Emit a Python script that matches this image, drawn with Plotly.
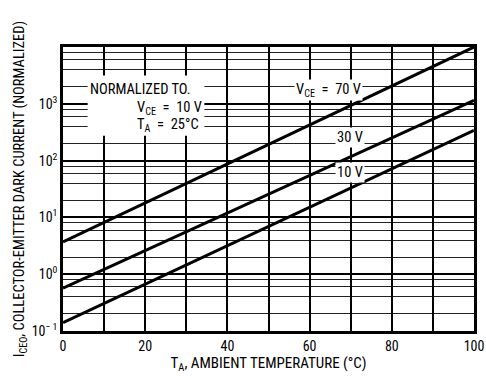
import plotly.graph_objects as go

# ---- data ----
temps = [0, 100]                      # T_A (°C)
i_vce70 = [3.7, 10000]                # normalized I_CEO, VCE = 70 V
i_vce30 = [0.57, 1150]                # VCE = 30 V
i_vce10 = [0.14, 340]                 # VCE = 10 V

x_tick_vals = [0, 10, 20, 30, 40, 50, 60, 70, 80, 90, 100]
x_tick_text = ["0", "", "20", "", "40", "", "60", "", "80", "", "100"]
y_tick_vals = [0.1, 1, 10, 100, 1000, 10000]
y_tick_text = ["10<sup>\u2212 1</sup>", "10<sup>0</sup>", "10<sup>1</sup>",
               "10<sup>2</sup>", "10<sup>3</sup>", ""]
y_minor_mult = [2, 4, 6, 8]
decades = [0.1, 1, 10, 100, 1000]

FONT = "Liberation Sans Narrow, Roboto Condensed, Arial Narrow, Liberation Sans, sans-serif"

fig = go.Figure()
for ys in (i_vce70, i_vce30, i_vce10):
    fig.add_trace(go.Scatter(x=temps, y=ys, mode="lines",
                             line=dict(color="black", width=3),
                             showlegend=False, hoverinfo="skip"))

minor_vals = [d * m for d in decades for m in y_minor_mult]

fig.update_layout(
    width=486, height=376,
    margin=dict(l=63, r=2, t=47, b=45),
    paper_bgcolor="white", plot_bgcolor="white",
    font=dict(family=FONT, size=14, color="black"),
    showlegend=False,
    xaxis=dict(
        range=[0, 100], tickmode="array", tickvals=x_tick_vals, ticktext=x_tick_text,
        showgrid=True, gridcolor="black", gridwidth=1.8, zeroline=False,
        showline=True, mirror=True, linecolor="black", linewidth=2.5,
        ticks="", tickfont=dict(size=14), ticklabeloverflow="allow",
        title=dict(text="T<sub>A</sub>, AMBIENT TEMPERATURE (\u00b0C)",
                   font=dict(size=15), standoff=5),
    ),
    yaxis=dict(
        type="log", range=[-1, 4], tickmode="array", tickvals=y_tick_vals,
        ticktext=y_tick_text,
        showgrid=True, gridcolor="black", gridwidth=1.6, zeroline=False,
        showline=True, mirror=True, linecolor="black", linewidth=2.5,
        ticks="", tickfont=dict(size=14), ticklabeloverflow="allow",
        minor=dict(tickmode="array", tickvals=minor_vals, showgrid=True,
                   gridcolor="#222222", gridwidth=1.1, ticks=""),
        title=dict(text="I<sub>CEO</sub>, COLLECTOR-EMITTER DARK CURRENT (NORMALIZED)",
                   font=dict(size=14.5), standoff=4),
    ),
)

# white box behind the normalization note (shape coords on log axis are data values)
fig.add_shape(type="rect", xref="x", yref="y", x0=6, x1=34.4, y0=275, y1=3160,
              fillcolor="white", line=dict(width=0), layer="between")

fig.add_annotation(x=6.2, y=3.25, xref="x", yref="y", text="NORMALIZED TO.",
                   showarrow=False, xanchor="left", font=dict(size=14.5))
fig.add_annotation(x=17.4, y=2.92, xref="x", yref="y",
                   text="V<sub>CE</sub>  =  10 V", showarrow=False, xanchor="left",
                   font=dict(size=14.5))
fig.add_annotation(x=17.4, y=2.62, xref="x", yref="y",
                   text="T<sub>A</sub>  =  25\u00b0C", showarrow=False, xanchor="left",
                   font=dict(size=14.5))

for xv, yv, txt in [(64.7, 3.25, "V<sub>CE</sub>  =  70 V"),
                    (69.9, 2.405, "30 V"),
                    (69.9, 1.786, "10 V")]:
    fig.add_annotation(x=xv, y=yv, xref="x", yref="y", text=txt, showarrow=False,
                       bgcolor="white", borderpad=1, font=dict(size=14.5))

fig.write_html("out.html", config={"displayModeBar": False})

# remove default page margin so the 486x376 figure fits the window exactly
with open("out.html", "r", encoding="utf-8") as f:
    html = f.read()
html = html.replace("<head>", "<head><style>html,body{margin:0;padding:0;overflow:hidden;}</style>", 1)
with open("out.html", "w", encoding="utf-8") as f:
    f.write(html)
